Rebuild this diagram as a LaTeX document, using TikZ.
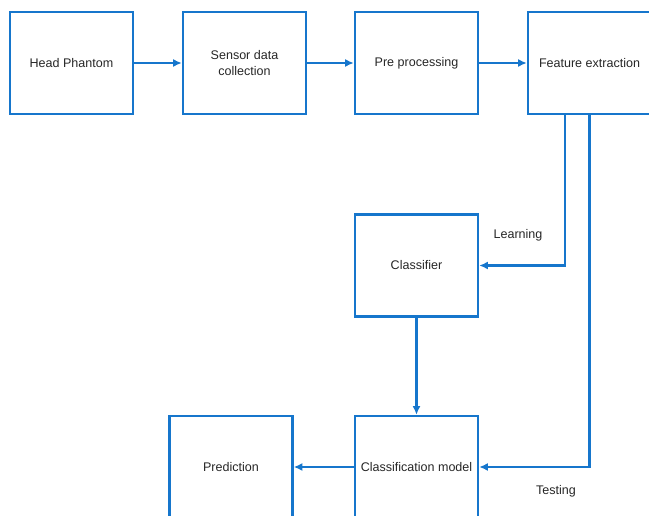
\documentclass[tikz,border=0pt]{standalone}
\usepackage{fontspec}
\setmainfont{Liberation Sans}
\usetikzlibrary{arrows.meta}

\definecolor{flowblue}{RGB}{22,118,204}

\tikzset{
  stagebox/.style={draw=flowblue, line width=1.8pt, minimum width=92.2pt, minimum height=76.5pt,
    align=center, inner sep=2pt, font=\fontsize{9.4}{12}\selectfont, text=black!85},
  flowline/.style={draw=flowblue, line width=1.6pt, -{Latex[length=6.5pt,width=6pt]}},
  flowtag/.style={font=\fontsize{9.4}{12}\selectfont, text=black!85}
}

\begin{document}
\begin{tikzpicture}[x=0.75pt,y=0.75pt,yscale=-1,xscale=1]
%set diagram frame: 649 x 516
\path[use as bounding box] (0,0) rectangle (649,516);
\clip (0,0) rectangle (649,516);
% Boxes
\node[stagebox] (phantom) at (71.5,63) {Head Phantom};
\node[stagebox] (sensor) at (244.5,63) {Sensor data\\collection};
\node[stagebox] (prep) at (416.5,63) {Pre processing};
\node[stagebox] (feat) at (589.5,63) {Feature extraction};
\node[stagebox] (clf) at (416.5,265.5) {Classifier};
\node[stagebox] (model) at (416.5,467) {Classification model};
\node[stagebox] (pred) at (231,467) {Prediction};
% Labels
\node[flowtag] (learn) at (518,235) {Learning};
\node[flowtag] (test) at (556,491) {Testing};
% Connectors
\draw[flowline] (phantom) -- (sensor);
\draw[flowline] (sensor) -- (prep);
\draw[flowline] (prep) -- (feat);
\draw[flowline] ([xshift=-18.4pt]feat.south) |- (clf.east);
\draw[flowline] (feat.south) |- (model.east);
\draw[flowline] (clf) -- (model);
\draw[flowline] (model) -- (pred);
\end{tikzpicture}
\end{document}
